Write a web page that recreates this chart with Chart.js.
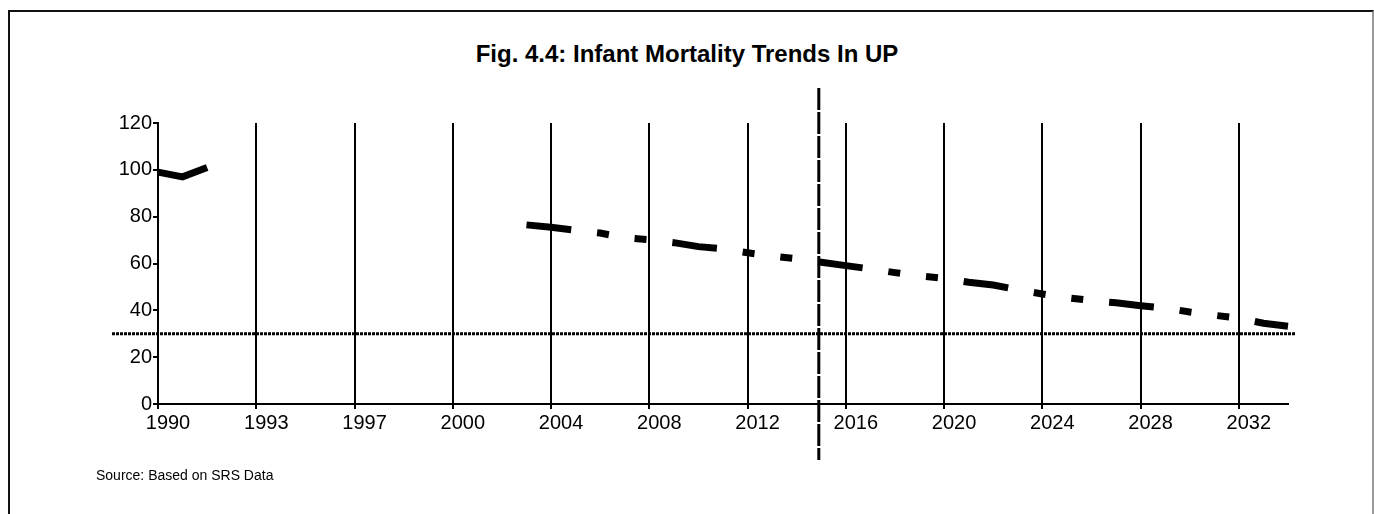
<!DOCTYPE html>
<html>
<head>
<meta charset="utf-8">
<title>Infant Mortality Trends In UP</title>
<script src="https://cdn.jsdelivr.net/npm/chart.js@4.4.1/dist/chart.umd.min.js"></script>
<style>
  html, body { margin: 0; padding: 0; background: #fff; }
  #wrap { position: relative; width: 1374px; height: 514px; overflow: hidden; font-family: "Liberation Sans", Arial, sans-serif; }
  #frame { position: absolute; left: 8px; top: 10px; width: 1362px; height: 600px; border: 2px solid #111; border-right-color: #999; }
  #title { position: absolute; left: 0; top: 42px; width: 1374px; text-align: center; font-size: 24px; line-height: 24px; font-weight: bold; color: #000; }
  #source { position: absolute; left: 96px; top: 467px; font-size: 14px; line-height: 17px; color: #000; }
  canvas { position: absolute; left: 0; top: 0; }
</style>
</head>
<body>
<div id="wrap">
  <div id="frame"></div>
  <div id="title">Fig. 4.4: Infant Mortality Trends In UP</div>
  <canvas id="chartIMR" width="1374" height="514"></canvas>
  <div id="source">Source: Based on SRS Data</div>
</div>
<script>
  // x categories (the early part of the axis is compressed in the original)
  const categories = ['1990', '1991', '1992', '1992b', '1993', '1994', '1995', '1996',
    '1997', '1998', '1999', '1999b', '2000', '2001', '2002', '2003',
    '2004', '2005', '2006', '2007', '2008', '2009', '2010', '2011',
    '2012', '2013', '2014', '2015', '2016', '2017', '2018', '2019',
    '2020', '2021', '2022', '2023', '2024', '2025', '2026', '2027',
    '2028', '2029', '2030', '2031', '2032', '2033', '2034'];
  const tickLabels = ['1990', '1993', '1997', '2000', '2004', '2008', '2012', '2016', '2020', '2024', '2028', '2032'];

  // observed IMR 1990-1992
  const observed = [99, 97, 101];
  // trend / projection from 2003 to 2034
  const projected = [76.5, 75.5, 74.2, 73, 71, 70.2, 68.9, 67.2, 66.3, 64.6, 63.2, 62,
    60.5, 59.1, 57.7, 56.1, 54.7, 53.7, 52, 50.8, 48.8, 47, 45.4, 44.2,
    43.2, 42, 41, 39.3, 37.9, 36.6, 34.5, 33.2];
  const projectedFrom = '2003';

  const targetIMR = 30;        // horizontal dotted reference
  const dividerAt = 26.9;      // vertical dotted divider (category index, ~2015)

  const startIdx = categories.indexOf(projectedFrom);
  const observedData = categories.map((c, i) => i < observed.length ? observed[i] : null);
  const projectedData = categories.map((c, i) => (i >= startIdx && i - startIdx < projected.length) ? projected[i - startIdx] : null);

  const refLines = {
    id: 'refLines',
    afterDatasetsDraw(chart) {
      const { ctx, chartArea: a, scales: { x, y } } = chart;
      ctx.save();
      ctx.strokeStyle = '#000';
      ctx.lineWidth = 3;
      ctx.setLineDash([3, 1]);
      const ty = y.getPixelForValue(targetIMR);
      ctx.beginPath();
      ctx.moveTo(a.left - 46, ty);
      ctx.lineTo(a.right + 7, ty);
      ctx.stroke();

      const dx = x.getPixelForValue(dividerAt);
      ctx.setLineDash([22, 2]);
      ctx.beginPath();
      ctx.moveTo(dx, a.top - 35);
      ctx.lineTo(dx, a.bottom + 56);
      ctx.stroke();
      ctx.restore();
    }
  };

  const font = { family: '"Liberation Sans", Arial, sans-serif', size: 20 };

  new Chart(document.getElementById('chartIMR'), {
    type: 'line',
    data: {
      labels: categories,
      datasets: [{
        label: 'IMR',
        data: observedData,
        borderColor: '#000',
        borderWidth: 7,
        pointRadius: 0,
        tension: 0
      }, {
        label: 'Trend',
        data: projectedData,
        borderColor: '#000',
        borderWidth: 7,
        borderDash: [45, 26, 12, 26, 12, 26],
        borderCapStyle: 'butt',
        pointRadius: 0,
        tension: 0
      }]
    },
    options: {
      responsive: false,
      devicePixelRatio: 1,
      animation: false,
      layout: { padding: { left: 0, right: 86, top: 123, bottom: 0 } },
      plugins: { legend: { display: false }, tooltip: { enabled: false } },
      scales: {
        x: {
          type: 'category',
          ticks: {
            autoSkip: false,
            maxRotation: 0,
            color: '#000',
            font: font,
            padding: 2,
            labelOffset: 10,
            callback: (v, i) => i % 4 === 0 ? tickLabels[i / 4] : ''
          },
          grid: {
            color: c => c.index % 4 === 0 ? '#000' : 'rgba(0,0,0,0)',
            lineWidth: 2,
            tickLength: 5
          },
          border: { color: '#000', width: 2 },
          afterFit(s) { s.height = 110; }
        },
        y: {
          min: 0,
          max: 120,
          ticks: { stepSize: 20, color: '#000', font: font, padding: 1 },
          grid: { drawOnChartArea: false, color: '#000', lineWidth: 2, tickLength: 5 },
          border: { color: '#000', width: 2 },
          afterFit(s) { s.width = 158; }
        }
      }
    },
    plugins: [refLines]
  });
</script>
</body>
</html>
